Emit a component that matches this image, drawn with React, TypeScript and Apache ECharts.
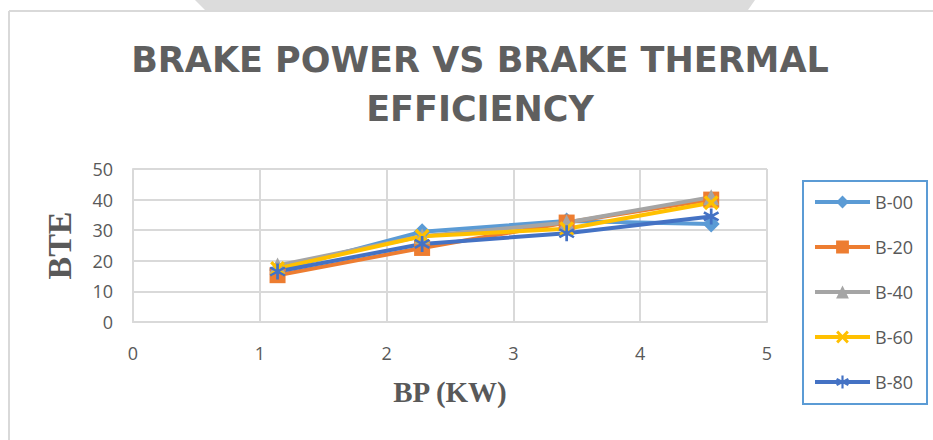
import React, { useEffect, useRef } from "react";
import * as echarts from "echarts";

const bpValues = [1.14, 2.28, 3.42, 4.56];
const seriesNames = ["B-00", "B-20", "B-40", "B-60", "B-80"];
const b00 = [17, 29.5, 33, 32];
const b20 = [15.3, 24.2, 32.5, 40];
const b40 = [18.5, 28, 32.5, 40.8];
const b60 = [17.5, 28, 30.5, 39];
const b80 = [16.5, 25.5, 29, 34.5];
const seriesValues = [b00, b20, b40, b60, b80];
const seriesColors = ["#5B9BD5", "#ED7D31", "#A5A5A5", "#FFC000", "#4472C4"];
const yTicks = [0, 10, 20, 30, 40, 50];
const xTicks = [0, 1, 2, 3, 4, 5];

const X_PATH =
  "path://M0,1.6L1.6,0L5,3.4L8.4,0L10,1.6L6.6,5L10,8.4L8.4,10L5,6.6L1.6,10L0,8.4L3.4,5Z";
const STAR_PATH =
  "path://M4.2,0L5.8,0L5.8,10L4.2,10Z" +
  "M1.1,1.81L9.7,6.81L8.9,8.19L0.3,3.19Z" +
  "M8.9,1.81L9.7,3.19L1.1,8.19L0.3,6.81Z";

const symbols = ["diamond", "rect", "triangle", X_PATH, STAR_PATH];
const symbolSizes = [17, 16, 16, 15, 16];

export default function App() {
  const ref = useRef<HTMLDivElement>(null);
  useEffect(() => {
    if (!ref.current) return;
    const chart = echarts.init(ref.current, null, { renderer: "svg" });
    const series = seriesNames.map((name, i) => ({
      name,
      type: "line",
      data: bpValues.map((x, j) => [x, seriesValues[i][j]]),
      symbol: symbols[i],
      symbolSize: symbolSizes[i],
      showAllSymbol: true,
      lineStyle: { color: seriesColors[i], width: 4 },
      itemStyle: { color: seriesColors[i] },
      emphasis: { disabled: true },
    }));
    chart.setOption({
      animation: false,
      backgroundColor: "#ffffff",
      title: {
        text: "BRAKE POWER VS BRAKE THERMAL\nEFFICIENCY",
        left: 475,
        top: 30,
        textAlign: "center",
        textStyle: {
          fontFamily: "DejaVu Sans",
          fontWeight: "bold",
          fontSize: 35,
          lineHeight: 49,
          color: "#5f5f5f",
        },
      },
      graphic: [
        {
          type: "polygon",
          shape: { points: [[195, 0], [755, 0], [748, 10], [205, 10]] },
          style: { fill: "#DCDCDC" },
          silent: true,
        },
        {
          type: "line",
          shape: { x1: 9, y1: 11, x2: 933, y2: 11 },
          style: { stroke: "#D9D9D9", lineWidth: 2 },
          silent: true,
        },
        {
          type: "line",
          shape: { x1: 9, y1: 11, x2: 9, y2: 440 },
          style: { stroke: "#D9D9D9", lineWidth: 2 },
          silent: true,
        },
      ],
      legend: {
        data: seriesNames,
        orient: "vertical",
        left: 803,
        top: 181,
        itemWidth: 55,
        itemHeight: 16,
        itemGap: 27,
        padding: [12, 14, 13, 10],
        borderColor: "#5B9BD5",
        borderWidth: 2,
        lineStyle: { width: 4 },
        textStyle: {
          fontFamily: "Open Sans",
          fontSize: 18,
          color: "#595959",
          lineHeight: 18,
        },
      },
      grid: { left: 133, right: 166, top: 169, bottom: 118 },
      xAxis: {
        type: "value",
        min: xTicks[0],
        max: xTicks[xTicks.length - 1],
        interval: 1,
        name: "BP (KW)",
        nameLocation: "middle",
        nameGap: 55,
        nameTextStyle: {
          fontFamily: "Liberation Serif",
          fontWeight: "bold",
          fontSize: 29,
          color: "#595959",
        },
        axisLine: { show: true, lineStyle: { color: "#D9D9D9", width: 2 } },
        axisTick: { show: false },
        splitLine: { show: true, lineStyle: { color: "#D9D9D9", width: 2 } },
        axisLabel: {
          fontFamily: "Open Sans",
          fontSize: 18,
          color: "#595959",
          margin: 22,
        },
      },
      yAxis: {
        type: "value",
        min: yTicks[0],
        max: yTicks[yTicks.length - 1],
        interval: 10,
        name: "BTE",
        nameLocation: "middle",
        nameGap: 57,
        nameTextStyle: {
          fontFamily: "Liberation Serif",
          fontWeight: "bold",
          fontSize: 34,
          color: "#595959",
        },
        axisLine: { show: true, lineStyle: { color: "#D9D9D9", width: 2 } },
        axisTick: { show: false },
        splitLine: { show: true, lineStyle: { color: "#D9D9D9", width: 2 } },
        axisLabel: {
          fontFamily: "Open Sans",
          fontSize: 18,
          color: "#595959",
          margin: 20,
        },
      },
      series,
    });
    return () => chart.dispose();
  }, []);
  return (
    <div
      ref={ref}
      style={{ position: "fixed", left: 0, top: 0, width: 933, height: 440 }}
    />
  );
}
